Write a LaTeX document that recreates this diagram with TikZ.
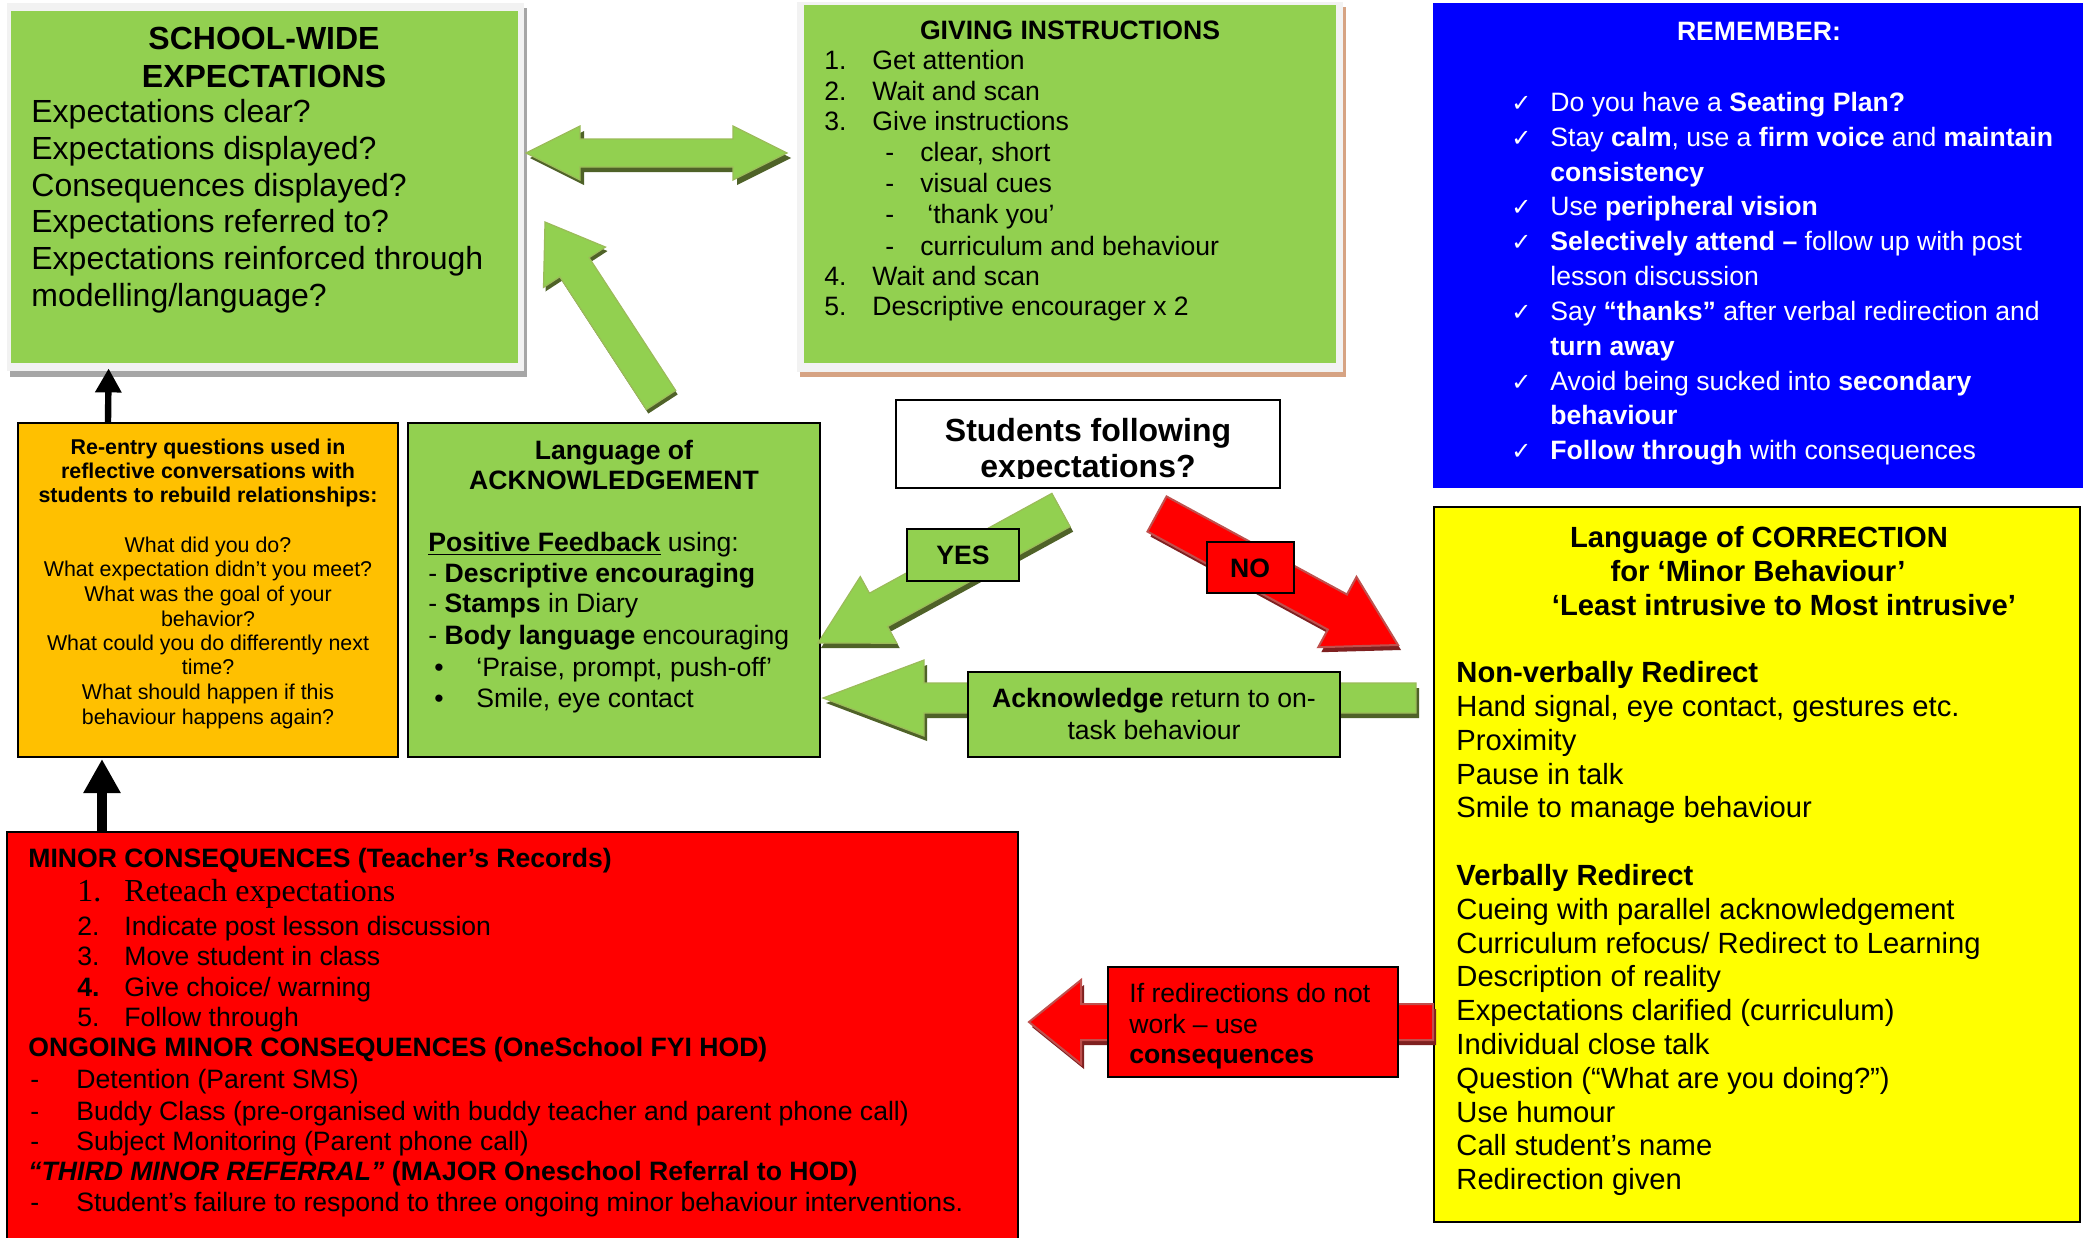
\documentclass[tikz,border=0pt]{standalone}
\usepackage{fontspec}
\setmainfont{Liberation Sans}
\newfontfamily\serifrm{Liberation Serif}
\newfontfamily\dejavu{DejaVu Sans}
\usetikzlibrary{calc,fit,arrows.meta}
\definecolor{grn}{HTML}{92D050}
\definecolor{grnsh}{HTML}{4F6228}
\definecolor{grned}{HTML}{9BBB59}
\definecolor{orng}{HTML}{FFC000}
\definecolor{ylw}{HTML}{FFFF00}
\definecolor{bl}{HTML}{0000FF}
\definecolor{rd}{HTML}{FF0000}
\definecolor{rded}{HTML}{C0504D}
\definecolor{rdsh}{HTML}{7F2020}
\definecolor{frm}{HTML}{F2F2F2}
\definecolor{grysh}{HTML}{A6A6A6}
\definecolor{tansh}{HTML}{D6A383}
\newcommand\szA{\fontsize{16pt}{18pt}\selectfont}
\newcommand\szB{\fontsize{13.3pt}{15pt}\selectfont}
\newcommand\szC{\fontsize{10.7pt}{12pt}\selectfont}
\newcommand\szD{\fontsize{14.6pt}{17pt}\selectfont}
\newcommand\szS{\fontsize{16pt}{18pt}\selectfont\serifrm}
\newcommand\chk{{\dejavu\fontsize{12pt}{14pt}\selectfont ✓}}
% block arrow: tail, tip, shaft half, head half, head length, path options
\newcommand\fatarrow[6]{%
  \path (#1) coordinate (faA) (#2) coordinate (faB);
  \path ($(faB)!#5!(faA)$) coordinate (faH);
  \path[#6] ($(faA)!#3!90:(faB)$) -- ($(faH)!#3!90:(faB)$) -- ($(faH)!#4!90:(faB)$) -- (faB)
    -- ($(faH)!#4!-90:(faB)$) -- ($(faH)!#3!-90:(faB)$) -- ($(faA)!#3!-90:(faB)$) -- cycle;}
\newcommand\fatarrowsh[8]{%
  \path ([#8]#1) coordinate (sA) ([#8]#2) coordinate (sB);
  \fatarrow{sA}{sB}{#3}{#4}{#5}{fill=#7}%
  \fatarrow{#1}{#2}{#3}{#4}{#5}{#6}}
\tikzset{
  t/.style={anchor=base west, inner sep=0pt},
  tc/.style={anchor=base, inner sep=0pt},
  boxb/.style={inner sep=0pt, draw=black, line width=1pt},
  garrow/.style={fill=grn, draw=grned, line width=0.6pt},
  rarrow/.style={fill=rd, draw=rded, line width=1pt},
  blkA/.style={line width=3.2pt, -{Triangle[length=12pt,width=12.5pt]}},
  blkB/.style={line width=5pt, -{Triangle[length=17pt,width=17.5pt]}},
}
\begin{document}
\begin{tikzpicture}[x=0.5pt,y=-0.5pt]
\useasboundingbox (0,0) rectangle (2087,1237);
\fill[white] (0,0) rectangle (2087,1237);

% ---------- SCHOOL-WIDE EXPECTATIONS ----------
\node[fit={(10,8) (527,377)}, inner sep=0pt, fill=grysh] (swsh) {};
\node[fit={(7,3) (524,371)}, inner sep=0pt, fill=frm] (swfr) {};
\node[fit={(11,11) (518,363)}, inner sep=0pt, fill=grn] (sw) {};
\node[tc,font=\szA\bfseries] (swt1) at (264,49) {SCHOOL-WIDE};
\node[tc,font=\szA\bfseries] (swt2) at (264,87) {EXPECTATIONS};
\node[t,font=\szA] (sw1) at (31,122) {Expectations clear?};
\node[t,font=\szA] (sw2) at (31,159) {Expectations displayed?};
\node[t,font=\szA] (sw3) at (31,196) {Consequences displayed?};
\node[t,font=\szA] (sw4) at (31,232) {Expectations referred to?};
\node[t,font=\szA] (sw5) at (31,269) {Expectations reinforced through};
\node[t,font=\szA] (sw6) at (31,306) {modelling/language?};

% ---------- GIVING INSTRUCTIONS ----------
\node[fit={(800,7) (1346,377)}, inner sep=0pt, fill=tansh] (gish) {};
\node[fit={(797,2) (1343,372)}, inner sep=0pt, fill=frm] (gifr) {};
\node[fit={(804,5) (1336,363)}, inner sep=0pt, fill=grn] (gi) {};
\node[tc,font=\szB\bfseries] (gi0) at (1070,39) {GIVING INSTRUCTIONS};
\node[t,font=\szB] (gn1) at (824,69) {1.};
\node[t,font=\szB] (gt1) at (872,69) {Get attention};
\node[t,font=\szB] (gn2) at (824,100) {2.};
\node[t,font=\szB] (gt2) at (872,100) {Wait and scan};
\node[t,font=\szB] (gn3) at (824,130) {3.};
\node[t,font=\szB] (gt3) at (872,130) {Give instructions};
\node[t,font=\szB] (gd1) at (885,161) {-};
\node[t,font=\szB] (gs1) at (920,161) {clear, short};
\node[t,font=\szB] (gd2) at (885,192) {-};
\node[t,font=\szB] (gs2) at (920,192) {visual cues};
\node[t,font=\szB] (gd3) at (885,223) {-};
\node[t,font=\szB] (gs3) at (927,223) {‘thank you’};
\node[t,font=\szB] (gd4) at (885,255) {-};
\node[t,font=\szB] (gs4) at (920,255) {curriculum and behaviour};
\node[t,font=\szB] (gn4) at (824,285) {4.};
\node[t,font=\szB] (gt4) at (872,285) {Wait and scan};
\node[t,font=\szB] (gn5) at (824,315) {5.};
\node[t,font=\szB] (gt5) at (872,315) {Descriptive encourager x 2};

% ---------- REMEMBER ----------
\node[fit={(1433,3) (2083,488)}, inner sep=0pt, fill=bl] (rem) {};
\begin{scope}[text=white]
\node[tc,font=\szB\bfseries] (rm0) at (1759,40) {REMEMBER:};
\node[t] (rc1) at (1511,111) {\chk};
\node[t,font=\szB] (rm1) at (1550,111) {Do you have a \textbf{Seating Plan?}};
\node[t] (rc2) at (1511,146) {\chk};
\node[t,font=\szB] (rm2) at (1550,146) {Stay \textbf{calm}, use a \textbf{firm voice} and \textbf{maintain}};
\node[t,font=\szB] (rm3) at (1550,181) {\textbf{consistency}};
\node[t] (rc3) at (1511,215) {\chk};
\node[t,font=\szB] (rm4) at (1550,215) {Use \textbf{peripheral vision}};
\node[t] (rc4) at (1511,250) {\chk};
\node[t,font=\szB] (rm5) at (1550,250) {\textbf{Selectively attend –} follow up with post};
\node[t,font=\szB] (rm6) at (1550,285) {lesson discussion};
\node[t] (rc5) at (1511,320) {\chk};
\node[t,font=\szB] (rm7) at (1550,320) {Say \textbf{“thanks”} after verbal redirection and};
\node[t,font=\szB] (rm8) at (1550,355) {\textbf{turn away}};
\node[t] (rc6) at (1511,390) {\chk};
\node[t,font=\szB] (rm9) at (1550,390) {Avoid being sucked into \textbf{secondary}};
\node[t,font=\szB] (rm10) at (1550,424) {\textbf{behaviour}};
\node[t] (rc7) at (1511,459) {\chk};
\node[t,font=\szB] (rm11) at (1550,459) {\textbf{Follow through} with consequences};
\end{scope}

% ---------- green arrows at top ----------
\coordinate (dL) at (526,153);
\coordinate (dR) at (787,153);
\fill[grnsh] ([xshift=2pt,yshift=-2.5pt]dL) -- ++(54,-27) -- ++(0,13) -- ++(153,0) -- ++(0,-13) -- ++(54,27)
  -- ++(-54,27) -- ++(0,-13) -- ++(-153,0) -- ++(0,13) -- cycle;
\path[garrow] (dL) -- ++(54,-27) -- ++(0,13) -- ++(153,0) -- ++(0,-13) -- (dR)
  -- ++(-54,27) -- ++(0,-13) -- ++(-153,0) -- ++(0,13) -- cycle;
\coordinate (upT) at (661,400);
\coordinate (upH) at (545,222);
\fatarrowsh{upT}{upH}{8.75pt}{18.5pt}{27pt}{garrow}{grnsh}{xshift=1pt,yshift=-2pt}

% ---------- Re-entry (orange) ----------
\node[fit={(18,423) (398,757)}, boxb, fill=orng] (re) {};
\node[tc,font=\szC\bfseries] (re1) at (208,454) {Re-entry questions used in};
\node[tc,font=\szC\bfseries] (re2) at (208,478) {reflective conversations with};
\node[tc,font=\szC\bfseries] (re3) at (208,502) {students to rebuild relationships:};
\node[tc,font=\szC] (re4) at (208,552) {What did you do?};
\node[tc,font=\szC] (re5) at (208,576) {What expectation didn’t you meet?};
\node[tc,font=\szC] (re6) at (208,601) {What was the goal of your};
\node[tc,font=\szC] (re7) at (208,626) {behavior?};
\node[tc,font=\szC] (re8) at (208,650) {What could you do differently next};
\node[tc,font=\szC] (re9) at (208,674) {time?};
\node[tc,font=\szC] (re10) at (208,699) {What should happen if this};
\node[tc,font=\szC] (re11) at (208,724) {behaviour happens again?};

% ---------- Language of ACKNOWLEDGEMENT ----------
\node[fit={(408,423) (820,757)}, boxb, fill=grn] (ack) {};
\node[tc,font=\szB\bfseries] (ak1) at (614,459) {Language of};
\node[tc,font=\szB\bfseries] (ak2) at (614,489) {ACKNOWLEDGEMENT};
\node[t,font=\szB] (ak3) at (428,551) {\textbf{\underline{Positive Feedback}} using:};
\node[t,font=\szB] (ak4) at (428,582) {- \textbf{Descriptive encouraging}};
\node[t,font=\szB] (ak5) at (428,612) {- \textbf{Stamps} in Diary};
\node[t,font=\szB] (ak6) at (428,644) {- \textbf{Body language} encouraging};
\node[t,font=\szB] (ak7b) at (434,676) {•};
\node[t,font=\szB] (ak7) at (476,676) {‘Praise, prompt, push-off’};
\node[t,font=\szB] (ak8b) at (434,707) {•};
\node[t,font=\szB] (ak8) at (476,707) {Smile, eye contact};

% ---------- Students following expectations? ----------
\node[fit={(896,400) (1280,488)}, boxb, fill=white] (stu) {};
\begin{scope}
\clip (896,400) rectangle (1280,478);
\node[tc,font=\szA\bfseries] (st1) at (1088,441) {Students following};
\node[tc,font=\szA\bfseries] (st2) at (1088,477) {expectations?};
\end{scope}

% ---------- YES / NO arrows ----------
\coordinate (yesT) at (1061,510);
\coordinate (yesH) at (818,643);
\fatarrowsh{yesT}{yesH}{9.5pt}{19pt}{34.5pt}{garrow}{grnsh}{xshift=1.5pt,yshift=-2.5pt}
\coordinate (noT) at (1157,514);
\coordinate (noH) at (1398,645);
\fatarrowsh{noT}{noH}{10pt}{20pt}{34.5pt}{rarrow}{rdsh}{xshift=1.5pt,yshift=-2.5pt}
\node[fit={(907,529) (1019,581)}, boxb, fill=grn] (yes) {};
\node[tc,font=\szB\bfseries] (yest) at (963,564) {YES};
\node[fit={(1207,542) (1294,593)}, boxb, fill=rd] (no) {};
\node[tc,font=\szB\bfseries] (not) at (1250,577) {NO};

% ---------- Acknowledge return ----------
\coordinate (akT) at (1416,698);
\coordinate (akH) at (823,698);
\fatarrowsh{akT}{akH}{7.5pt}{19pt}{50.5pt}{garrow}{grnsh}{xshift=1.5pt,yshift=-2.5pt}
\node[fit={(968,672) (1340,757)}, boxb, fill=grn] (akr) {};
\node[tc,font=\szB] (akr1) at (1154,707) {\textbf{Acknowledge} return to on-};
\node[tc,font=\szB] (akr2) at (1154,739) {task behaviour};

% ---------- Language of CORRECTION (yellow) ----------
\node[fit={(1434,507) (2080,1222)}, boxb, fill=ylw] (cor) {};
\node[tc,font=\szD\bfseries] (co1) at (1759,547) {Language of CORRECTION};
\node[tc,font=\szD\bfseries] (co2) at (1758,581) {for ‘Minor Behaviour’};
\node[tc,font=\szD\bfseries] (co3) at (1784,615) {‘Least intrusive to Most intrusive’};
\node[t,font=\szD\bfseries] (co4) at (1456,682) {Non-verbally Redirect};
\node[t,font=\szD] (co5) at (1456,716) {Hand signal, eye contact, gestures etc.};
\node[t,font=\szD] (co6) at (1456,750) {Proximity};
\node[t,font=\szD] (co7) at (1456,784) {Pause in talk};
\node[t,font=\szD] (co8) at (1456,817) {Smile to manage behaviour};
\node[t,font=\szD\bfseries] (co9) at (1456,885) {Verbally Redirect};
\node[t,font=\szD] (co10) at (1456,919) {Cueing with parallel acknowledgement};
\node[t,font=\szD] (co11) at (1456,953) {Curriculum refocus/ Redirect to Learning};
\node[t,font=\szD] (co12) at (1456,986) {Description of reality};
\node[t,font=\szD] (co13) at (1456,1020) {Expectations clarified (curriculum)};
\node[t,font=\szD] (co14) at (1456,1054) {Individual close talk};
\node[t,font=\szD] (co15) at (1456,1088) {Question (“What are you doing?”)};
\node[t,font=\szD] (co16) at (1456,1122) {Use humour};
\node[t,font=\szD] (co17) at (1456,1155) {Call student’s name};
\node[t,font=\szD] (co18) at (1456,1189) {Redirection given};

% ---------- redirection arrow ----------
\coordinate (rdT) at (1433,1022);
\coordinate (rdH) at (1029,1022);
\fatarrowsh{rdT}{rdH}{9pt}{21pt}{26pt}{rarrow}{rdsh}{xshift=1.5pt,yshift=-2.5pt}
\node[fit={(1108,967) (1398,1077)}, boxb, fill=rd] (rdb) {};
\node[t,font=\szB] (rd1) at (1129,1002) {If redirections do not};
\node[t,font=\szB] (rd2) at (1129,1033) {work – use};
\node[t,font=\szB\bfseries] (rd3) at (1129,1063) {consequences};

% ---------- MINOR CONSEQUENCES ----------
\node[fit={(7,832) (1018,1250)}, boxb, fill=rd] (mc) {};
\node[t,font=\szB\bfseries] (mc1) at (28,867) {MINOR CONSEQUENCES (Teacher’s Records)};
\node[t,font=\szS] (mn1) at (77,901) {1.};
\node[t,font=\szS] (mt1) at (124,901) {Reteach expectations};
\node[t,font=\szB] (mn2) at (77,935) {2.};
\node[t,font=\szB] (mt2) at (124,935) {Indicate post lesson discussion};
\node[t,font=\szB] (mn3) at (77,965) {3.};
\node[t,font=\szB] (mt3) at (124,965) {Move student in class};
\node[t,font=\szB\bfseries] (mn4) at (77,996) {4.};
\node[t,font=\szB] (mt4) at (124,996) {Give choice/ warning};
\node[t,font=\szB] (mn5) at (77,1026) {5.};
\node[t,font=\szB] (mt5) at (124,1026) {Follow through};
\node[t,font=\szB\bfseries] (mc2) at (28,1056) {ONGOING MINOR CONSEQUENCES (OneSchool FYI HOD)};
\node[t,font=\szB] (md1) at (30,1088) {-};
\node[t,font=\szB] (mo1) at (76,1088) {Detention (Parent SMS)};
\node[t,font=\szB] (md2) at (30,1120) {-};
\node[t,font=\szB] (mo2) at (76,1120) {Buddy Class (pre-organised with buddy teacher and parent phone call)};
\node[t,font=\szB] (md3) at (30,1150) {-};
\node[t,font=\szB] (mo3) at (76,1150) {Subject Monitoring (Parent phone call)};
\node[t,font=\szB\bfseries] (mc3) at (28,1180) {\textit{“THIRD MINOR REFERRAL”} (MAJOR Oneschool Referral to HOD)};
\node[t,font=\szB] (md4) at (30,1211) {-};
\node[t,font=\szB] (mo4) at (76,1211) {Student’s failure to respond to three ongoing minor behaviour interventions.};

% ---------- black arrows ----------
\draw[blkA] ([xshift=45.5pt]re.north west) -- ([xshift=49pt,yshift=-2.5pt]sw.south west);
\draw[blkB] ([xshift=48pt]mc.north west) -- ([xshift=42.5pt,yshift=-0.5pt]re.south west);
\end{tikzpicture}
\end{document}
